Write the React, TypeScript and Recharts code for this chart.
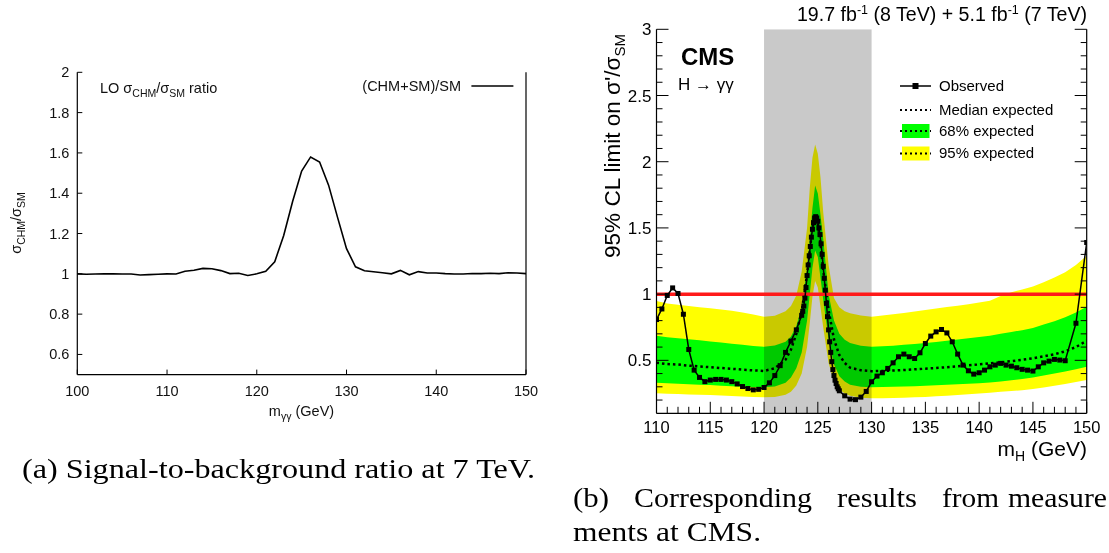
import React from 'react';
import { ComposedChart, Line, Area, XAxis, YAxis, ReferenceLine } from 'recharts';

const SANS = '"Liberation Sans", Arial, Helvetica, sans-serif';
const SERIF = '"Liberation Serif", "Times New Roman", serif';

// (a) LO ratio (CHM+SM)/SM, 1 GeV steps
const LO_MASS = [
  100, 101, 102, 103, 104, 105, 106, 107, 108, 109, 110, 111, 112, 113, 114, 115, 116,
  117, 118, 119, 120, 121, 122, 123, 124, 125, 126, 127, 128, 129, 130, 131, 132, 133,
  134, 135, 136, 137, 138, 139, 140, 141, 142, 143, 144, 145, 146, 147, 148, 149, 150,
];
const LO_RATIO = [
  1.0, 0.998, 0.999, 1.0, 1.0, 0.999, 0.999, 0.994, 0.996, 0.998, 1.0, 0.999, 1.013, 1.018,
  1.027, 1.025, 1.016, 1.001, 1.003, 0.992, 1.0, 1.013, 1.06, 1.19, 1.36, 1.51, 1.58, 1.555,
  1.44, 1.28, 1.125, 1.035, 1.015, 1.01, 1.005, 1.0, 1.017, 0.995, 1.011, 1.004, 1.004, 1.001,
  0.999, 0.999, 1.002, 1.001, 1.003, 1.001, 1.005, 1.004, 1.001,
];
const LO_X_TICKS = [100, 110, 120, 130, 140, 150];
const LO_Y_TICKS = [0.6, 0.8, 1, 1.2, 1.4, 1.6, 1.8, 2];

// (b) CMS H->gg 95% CL limit
const OBS_MASS = [
  110, 110.5, 111, 111.5, 112, 112.5, 113, 113.5, 114, 114.5, 115, 115.5, 116, 116.5, 117,
  117.5, 118, 118.5, 119, 119.5, 120, 120.5, 121, 121.5, 122, 122.5, 123, 123.5, 123.6, 123.7,
  123.8, 123.9, 124, 124.1, 124.2, 124.3, 124.4, 124.5, 124.6, 124.7, 124.8, 124.9, 125, 125.1,
  125.2, 125.3, 125.4, 125.5, 125.6, 125.7, 125.8, 125.9, 126, 126.1, 126.2, 126.3, 126.4,
  126.5, 126.6, 126.7, 126.8, 126.9, 127, 127.5, 128, 128.5, 129, 129.5, 130, 130.5, 131,
  131.5, 132, 132.5, 133, 133.5, 134, 134.5, 135, 135.5, 136, 136.5, 137, 137.5, 138, 138.5,
  139, 139.5, 140, 140.5, 141, 141.5, 142, 142.5, 143, 143.5, 144, 144.5, 145, 145.5, 146,
  146.5, 147, 147.5, 148, 149, 150,
];
const OBS_LIMIT = [
  0.808, 0.888, 0.99, 1.047, 1.005, 0.848, 0.582, 0.426, 0.371, 0.339, 0.351, 0.356, 0.356,
  0.351, 0.339, 0.322, 0.302, 0.287, 0.277, 0.281, 0.295, 0.33, 0.385, 0.46, 0.56, 0.645, 0.73,
  0.84, 0.87, 0.91, 0.97, 1.05, 1.14, 1.22, 1.29, 1.36, 1.43, 1.49, 1.54, 1.575, 1.585, 1.575,
  1.55, 1.5, 1.45, 1.38, 1.3, 1.21, 1.12, 1.03, 0.93, 0.83, 0.73, 0.64, 0.56, 0.49, 0.43, 0.385,
  0.35, 0.325, 0.3, 0.285, 0.27, 0.232, 0.207, 0.203, 0.222, 0.265, 0.338, 0.381, 0.406, 0.439,
  0.481, 0.527, 0.547, 0.527, 0.514, 0.557, 0.627, 0.683, 0.715, 0.733, 0.707, 0.64, 0.547,
  0.464, 0.421, 0.396, 0.406, 0.426, 0.451, 0.464, 0.477, 0.464, 0.456, 0.444, 0.432, 0.426,
  0.419, 0.451, 0.481, 0.494, 0.507, 0.502, 0.497, 0.78, 1.39,
];

const EXP_MASS = [
  110, 111, 112, 113, 114, 115, 116, 117, 118, 119, 120, 121, 122, 122.5, 123, 123.5, 124,
  124.25, 124.5, 124.75, 125, 125.25, 125.5, 126, 126.5, 127, 127.5, 128, 129, 130, 131, 132,
  133, 134, 135, 136, 137, 138, 139, 140, 141, 142, 143, 144, 145, 146, 147, 148, 149, 150,
];
const EXP_MEDIAN = [
  0.482, 0.472, 0.468, 0.46, 0.454, 0.448, 0.442, 0.436, 0.43, 0.424, 0.42, 0.44, 0.505, 0.58,
  0.7, 0.87, 1.15, 1.33, 1.5, 1.58, 1.53, 1.38, 1.18, 0.88, 0.66, 0.54, 0.48, 0.445, 0.425,
  0.418, 0.42, 0.423, 0.427, 0.432, 0.437, 0.442, 0.448, 0.455, 0.462, 0.469, 0.477, 0.485,
  0.494, 0.504, 0.515, 0.53, 0.546, 0.568, 0.6, 0.648,
];
const EXP_68_LO = [
  0.331, 0.327, 0.323, 0.319, 0.316, 0.313, 0.309, 0.305, 0.301, 0.298, 0.296, 0.302, 0.33,
  0.37, 0.44, 0.56, 0.8, 1.0, 1.2, 1.33, 1.28, 1.12, 0.96, 0.66, 0.47, 0.38, 0.34, 0.315, 0.3,
  0.296, 0.298, 0.3, 0.302, 0.305, 0.308, 0.311, 0.315, 0.319, 0.323, 0.327, 0.333, 0.34,
  0.349, 0.359, 0.37, 0.385, 0.4, 0.415, 0.432, 0.452,
];
const EXP_68_HI = [
  0.685, 0.674, 0.667, 0.659, 0.651, 0.642, 0.634, 0.626, 0.618, 0.609, 0.602, 0.612, 0.64,
  0.68, 0.76, 0.9, 1.2, 1.42, 1.65, 1.82, 1.76, 1.6, 1.42, 1.0, 0.8, 0.7, 0.655, 0.63, 0.61,
  0.602, 0.606, 0.611, 0.617, 0.624, 0.631, 0.639, 0.648, 0.657, 0.667, 0.676, 0.686, 0.7,
  0.714, 0.728, 0.745, 0.77, 0.795, 0.825, 0.862, 0.905,
];
const EXP_95_LO = [
  0.251, 0.248, 0.245, 0.242, 0.24, 0.238, 0.234, 0.23, 0.226, 0.223, 0.221, 0.224, 0.24,
  0.262, 0.31, 0.4, 0.6, 0.78, 0.98, 1.1, 1.05, 0.9, 0.75, 0.48, 0.34, 0.28, 0.25, 0.232,
  0.218, 0.213, 0.214, 0.216, 0.218, 0.221, 0.224, 0.228, 0.233, 0.238, 0.244, 0.25, 0.256,
  0.262, 0.268, 0.275, 0.283, 0.295, 0.308, 0.322, 0.336, 0.351,
];
const EXP_95_HI = [
  0.949, 0.93, 0.919, 0.91, 0.9, 0.893, 0.884, 0.874, 0.862, 0.846, 0.829, 0.836, 0.87, 0.91,
  0.99, 1.17, 1.5, 1.8, 2.03, 2.13, 2.06, 1.88, 1.62, 1.22, 0.97, 0.9, 0.87, 0.855, 0.838,
  0.829, 0.838, 0.848, 0.858, 0.869, 0.88, 0.891, 0.902, 0.913, 0.924, 0.936, 0.95, 0.985,
  1.015, 1.035, 1.058, 1.09, 1.125, 1.165, 1.22, 1.29,
];

const HIGGS_WINDOW = [120, 130];
const CMS_X_DOMAIN = [110, 150];
const CMS_Y_DOMAIN = [0.1, 3];
const CMS_X_LABELS = [110, 115, 120, 125, 130, 135, 140, 145, 150];
const CMS_Y_LABELS = [0.5, 1, 1.5, 2, 2.5, 3];

const steps = (a: number, b: number, d: number) => {
  const out: number[] = [];
  for (let v = a; v <= b + 1e-9; v += d) out.push(Math.round(v * 100) / 100);
  return out;
};
const CMS_X_TICKS = steps(110, 150, 1);
const CMS_Y_TICKS = steps(0.2, 3, 0.1);
const isIn = (list: number[], v: number) => list.some((t) => Math.abs(t - v) < 1e-6);

// ---------- panel (a) ----------
const loBottomTick = (p: any) => (
  <g>
    <line x1={p.x} x2={p.x} y1={p.y} y2={p.y - 5} stroke="#000" strokeWidth={1} />
    <text x={p.x} y={p.y + 21} textAnchor="middle" fontSize={14.5} fontFamily={SANS} fill="#111">
      {p.payload.value}
    </text>
  </g>
);
const loTopTick = (p: any) => (
  <line x1={p.x} x2={p.x} y1={p.y} y2={p.y + 5} stroke="#000" strokeWidth={1} />
);
const loLeftTick = (p: any) => (
  <g>
    <line x1={p.x} x2={p.x + 5} y1={p.y} y2={p.y} stroke="#000" strokeWidth={1} />
    <text x={p.x - 8} y={p.y + 5} textAnchor="end" fontSize={14.5} fontFamily={SANS} fill="#111">
      {p.payload.value}
    </text>
  </g>
);
const loRightTick = (p: any) => (
  <line x1={p.x} x2={p.x - 5} y1={p.y} y2={p.y} stroke="#000" strokeWidth={1} />
);

function RatioPanel() {
  const rows = LO_MASS.map((m, i) => ({ m, r: LO_RATIO[i] }));
  const frame = { stroke: '#000', strokeWidth: 1.2 };
  return (
    <ComposedChart width={560} height={440} data={rows} margin={{ top: 72.3, right: 0, bottom: 0, left: 0 }}>
      <XAxis dataKey="m" type="number" domain={[100, 150]} ticks={LO_X_TICKS} interval={0}
        height={65.4} tickSize={0} tickMargin={0} tickLine={false} axisLine={frame} tick={loBottomTick} />
      <XAxis xAxisId="top" orientation="top" dataKey="m" type="number" domain={[100, 150]} ticks={LO_X_TICKS}
        interval={0} height={0} tickSize={0} tickMargin={0} tickLine={false} axisLine={frame} tick={loTopTick} />
      <YAxis type="number" domain={[0.5, 2]} ticks={LO_Y_TICKS} interval={0} width={77.3}
        tickSize={0} tickMargin={0} tickLine={false} axisLine={frame} tick={loLeftTick} />
      <YAxis yAxisId="right" orientation="right" type="number" domain={[0.5, 2]} ticks={LO_Y_TICKS}
        interval={0} width={34} tickSize={0} tickMargin={0} tickLine={false} axisLine={frame} tick={loRightTick} />
      <Line dataKey="r" type="linear" stroke="#000" strokeWidth={1.6} dot={false} activeDot={false}
        isAnimationActive={false} />
    </ComposedChart>
  );
}

// ---------- panel (b) ----------
const cmsBottomTick = (p: any) => {
  const v = p.payload.value;
  const major = isIn(CMS_X_LABELS, v);
  return (
    <g>
      <line x1={p.x} x2={p.x} y1={p.y} y2={p.y - (major ? 11.5 : 6.5)} stroke="#000" strokeWidth={1} />
      {major && (
        <text x={p.x} y={p.y + 20} textAnchor="middle" fontSize={16.5} fontFamily={SANS} fill="#000">{v}</text>
      )}
    </g>
  );
};
const cmsLeftTick = (p: any) => {
  const v = p.payload.value;
  const major = isIn(CMS_Y_LABELS, v);
  return (
    <g>
      <line x1={p.x} x2={p.x + (major ? 12 : 6)} y1={p.y} y2={p.y} stroke="#000" strokeWidth={1} />
      {major && (
        <text x={p.x - 5} y={p.y + 6} textAnchor="end" fontSize={17} fontFamily={SANS} fill="#000">{v}</text>
      )}
    </g>
  );
};
const cmsRightTick = (p: any) => {
  const major = isIn(CMS_Y_LABELS, p.payload.value);
  return <line x1={p.x} x2={p.x - (major ? 12 : 6)} y1={p.y} y2={p.y} stroke="#000" strokeWidth={1} />;
};

const square = (p: any) => (
  <rect key={`sq-${p.index}`} x={p.cx - 2.5} y={p.cy - 2.5} width={5} height={5} fill="#000" />
);

function LimitPanel() {
  const expRows = EXP_MASS.map((m, i) => ({
    m,
    med: EXP_MEDIAN[i],
    b68: [EXP_68_LO[i], EXP_68_HI[i]],
    b95: [EXP_95_LO[i], EXP_95_HI[i]],
  }));
  const obsRows = OBS_MASS.map((m, i) => ({ m, v: OBS_LIMIT[i] }));
  const windowRows = HIGGS_WINDOW.map((m) => ({ m, g: CMS_Y_DOMAIN }));
  const frame = { stroke: '#000', strokeWidth: 1.2 };
  return (
    <ComposedChart width={549} height={480} margin={{ top: 29.3, right: 0, bottom: 0, left: 0 }}>
      <XAxis dataKey="m" type="number" domain={CMS_X_DOMAIN} ticks={CMS_X_TICKS} interval={0} height={66.7}
        tickSize={0} tickMargin={0} tickLine={false} axisLine={frame} tick={cmsBottomTick} allowDataOverflow />
      <XAxis xAxisId="top" orientation="top" dataKey="m" type="number" domain={CMS_X_DOMAIN} height={0}
        tick={false} tickLine={false} axisLine={frame} allowDataOverflow />
      <YAxis type="number" domain={CMS_Y_DOMAIN} ticks={CMS_Y_TICKS} interval={0} width={96.5}
        tickSize={0} tickMargin={0} tickLine={false} axisLine={frame} tick={cmsLeftTick} allowDataOverflow />
      <YAxis yAxisId="right" orientation="right" type="number" domain={CMS_Y_DOMAIN} ticks={CMS_Y_TICKS}
        interval={0} width={22.3} tickSize={0} tickMargin={0} tickLine={false} axisLine={frame}
        tick={cmsRightTick} allowDataOverflow />
      {/* multiply blending: grey window darkens the bands whatever the paint order */}
      <Area className="mult" data={expRows} dataKey="b95" type="linear" stroke="none" fill="#ffff00"
        fillOpacity={1} isAnimationActive={false} activeDot={false} />
      <Area className="mult" data={expRows} dataKey="b68" type="linear" stroke="none" fill="#00ff00"
        fillOpacity={1} isAnimationActive={false} activeDot={false} />
      <Area className="mult" data={windowRows} dataKey="g" type="linear" stroke="none" fill="#c9c9c9"
        fillOpacity={1} isAnimationActive={false} activeDot={false} />
      <Line data={expRows} dataKey="med" type="linear" stroke="#000" strokeWidth={2.5}
        strokeDasharray="2.5 3" dot={false} activeDot={false} isAnimationActive={false} />
      <ReferenceLine y={1} stroke="#ff1a1a" strokeWidth={3.5} />
      <Line data={obsRows} dataKey="v" type="linear" stroke="#000" strokeWidth={1.5} dot={square}
        activeDot={false} isAnimationActive={false} />
    </ComposedChart>
  );
}

function Overlay() {
  const sub = 10.5;
  const cap = { fontSize: 28, fontFamily: SERIF, fill: '#000', lengthAdjust: 'spacingAndGlyphs' as const };
  return (
    <svg width={1109} height={553} style={{ position: 'absolute', left: 0, top: 0, pointerEvents: 'none' }}>
      {/* panel (a) texts */}
      <text x={100} y={93} fontSize={14.5} fontFamily={SANS} fill="#111">
        LO σ<tspan fontSize={sub} dy={4}>CHM</tspan>
        <tspan dy={-4}>/σ</tspan>
        <tspan fontSize={sub} dy={4}>SM</tspan>
        <tspan dy={-4}> ratio</tspan>
      </text>
      <text x={461} y={91} textAnchor="end" fontSize={14.5} fontFamily={SANS} fill="#111">(CHM+SM)/SM</text>
      <line x1={471.4} x2={513.4} y1={86} y2={86} stroke="#000" strokeWidth={1.6} />
      <text x={21} y={223} textAnchor="middle" fontSize={14.5} fontFamily={SANS} fill="#111"
        transform="rotate(-90 21 223)">
        σ<tspan fontSize={sub} dy={4}>CHM</tspan>
        <tspan dy={-4}>/σ</tspan>
        <tspan fontSize={sub} dy={4}>SM</tspan>
      </text>
      <text x={301.5} y={416} textAnchor="middle" fontSize={14.5} fontFamily={SANS} fill="#111">
        m<tspan fontSize={sub} dy={4}>γγ</tspan>
        <tspan dy={-4}> (GeV)</tspan>
      </text>

      {/* panel (b) texts */}
      <text x={1087} y={21} textAnchor="end" fontSize={19.6} fontFamily={SANS} fill="#000">
        19.7 fb<tspan fontSize={12.5} dy={-7}>-1</tspan>
        <tspan dy={7}> (8 TeV) + 5.1 fb</tspan>
        <tspan fontSize={12.5} dy={-7}>-1</tspan>
        <tspan dy={7}> (7 TeV)</tspan>
      </text>
      <text x={681} y={65} fontSize={24} fontWeight="bold" fontFamily={SANS} fill="#000">CMS</text>
      <text x={678} y={90} fontSize={17} fontFamily={SANS} fill="#000">H → γγ</text>
      <text x={620} y={146} textAnchor="middle" fontSize={22.5} fontFamily={SANS} fill="#000"
        transform="rotate(-90 620 146)">
        95% CL limit on σ'/σ<tspan fontSize={15} dy={5}>SM</tspan>
      </text>
      <text x={1087} y={456} textAnchor="end" fontSize={21} fontFamily={SANS} fill="#000">
        m<tspan fontSize={14} dy={5}>H</tspan>
        <tspan dy={-5}> (GeV)</tspan>
      </text>

      {/* legend (b) */}
      <line x1={900} x2={931} y1={86} y2={86} stroke="#000" strokeWidth={1.5} />
      <rect x={912.5} y={83} width={6} height={6} fill="#000" />
      <text x={939} y={91.4} fontSize={15} fontFamily={SANS}>Observed</text>
      <line x1={900} x2={931} y1={110} y2={110} stroke="#000" strokeWidth={2} strokeDasharray="2 3" />
      <text x={939} y={115.4} fontSize={15} fontFamily={SANS}>Median expected</text>
      <rect x={902} y={124} width={27.5} height={14} fill="#00ff00" />
      <line x1={900} x2={931} y1={131} y2={131} stroke="#000" strokeWidth={2} strokeDasharray="2 3" />
      <text x={939} y={136.4} fontSize={15} fontFamily={SANS}>68% expected</text>
      <rect x={902} y={146.5} width={27.5} height={14} fill="#ffff00" />
      <line x1={900} x2={931} y1={153.5} y2={153.5} stroke="#000" strokeWidth={2} strokeDasharray="2 3" />
      <text x={939} y={158.4} fontSize={15} fontFamily={SANS}>95% expected</text>

      {/* captions */}
      <text x={22} y={478} textLength={513} {...cap}>(a) Signal-to-background ratio at 7 TeV.</text>
      <text x={573} y={507} textLength={36} {...cap}>(b)</text>
      <text x={634} y={507} textLength={178} {...cap}>Corresponding</text>
      <text x={837} y={507} textLength={80} {...cap}>results</text>
      <text x={942} y={507} textLength={57} {...cap}>from</text>
      <text x={1008} y={507} textLength={99} {...cap}>measure</text>
      <text x={573} y={541} textLength={188} {...cap}>ments at CMS.</text>
    </svg>
  );
}

export default function App() {
  return (
    <div style={{ position: 'absolute', left: 0, top: 0, width: 1109, height: 553, background: '#fff', overflow: 'hidden' }}>
      <style>{'.mult { mix-blend-mode: multiply; }'}</style>
      <div style={{ position: 'absolute', left: 0, top: 0 }}>
        <RatioPanel />
      </div>
      <div style={{ position: 'absolute', left: 560, top: 0 }}>
        <LimitPanel />
      </div>
      <Overlay />
    </div>
  );
}
